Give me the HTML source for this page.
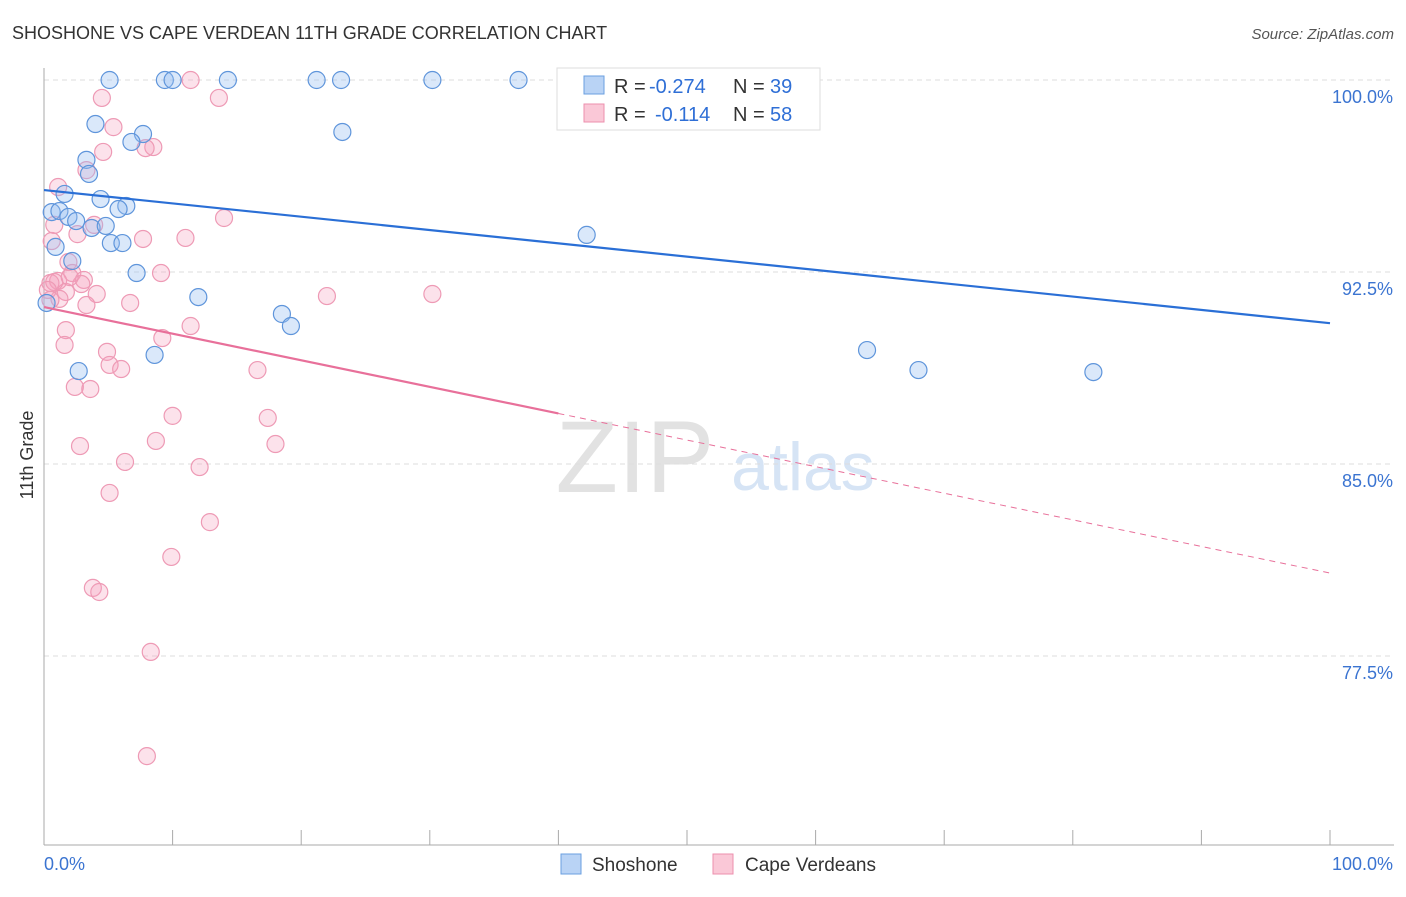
<!DOCTYPE html>
<html><head><meta charset="utf-8"><style>
body{margin:0;background:#fff;font-family:"Liberation Sans",sans-serif}
svg text{font-family:"Liberation Sans",sans-serif}
</style></head><body>
<svg id="c" width="1406" height="892" xmlns="http://www.w3.org/2000/svg">
<text x="12" y="39" font-size="18" fill="#333">SHOSHONE VS CAPE VERDEAN 11TH GRADE CORRELATION CHART</text>
<text x="1394" y="39" font-size="15" fill="#555" font-style="italic" text-anchor="end">Source: ZipAtlas.com</text>
<text x="33" y="455" font-size="18" fill="#333" transform="rotate(-90 33 455)" text-anchor="middle">11th Grade</text>
<g>
<text x="635" y="492" font-size="102" fill="#e2e2e2" font-family="Liberation Serif" text-anchor="middle">ZIP</text>
<text x="803" y="490" font-size="68" fill="#d6e4f5" text-anchor="middle">atlas</text>
</g>
<g id="grid"></g><g id="axes"></g><g id="pts"></g><g id="trend"></g>
<g>
<rect x="557" y="68" width="263" height="62" fill="#fff" stroke="#ddd"/>
<rect x="584" y="76" width="20" height="18" fill="#b9d3f5" stroke="#6a9fe0"/>
<rect x="584" y="104" width="20" height="18" fill="#fac8d7" stroke="#ec8fae"/>
<text x="614" y="93" font-size="20" fill="#333">R =</text>
<text x="649" y="93" font-size="20" fill="#2f6fd6">-0.274</text>
<text x="733" y="93" font-size="20" fill="#333">N =</text>
<text x="770" y="93" font-size="20" fill="#2f6fd6">39</text>
<text x="614" y="121" font-size="20" fill="#333">R =</text>
<text x="655" y="121" font-size="20" fill="#2f6fd6">-0.114</text>
<text x="733" y="121" font-size="20" fill="#333">N =</text>
<text x="770" y="121" font-size="20" fill="#2f6fd6">58</text>
</g>
<g>
<rect x="561" y="854" width="20" height="20" fill="#b9d3f5" stroke="#6a9fe0"/>
<text x="592" y="871" font-size="19" fill="#333">Shoshone</text>
<rect x="713" y="854" width="20" height="20" fill="#fac8d7" stroke="#ec8fae"/>
<text x="745" y="871" font-size="19" fill="#333">Cape Verdeans</text>
</g>
</svg>
<script>
const yTicks=[100,92.5,85,77.5];
const yTickLabels=["100.0%","92.5%","85.0%","77.5%"];
const xTickLabels=["0.0%","100.0%"];
const blueX=[5.1,9.4,10.0,14.3,21.2,23.1,30.2,36.9,4.0,7.7,6.8,23.2,3.3,3.5,1.6,4.4,6.4,5.8,0.6,1.2,1.9,2.5,3.7,4.8,0.9,5.2,6.1,42.2,2.2,7.2,12.0,18.5,19.2,8.6,2.7,64.0,68.0,81.6,0.2];
const blueY=[100,100,100,100,100,100,100,100,98.28,97.89,97.58,97.97,96.88,96.33,95.55,95.35,95.08,94.96,94.84,94.88,94.65,94.49,94.22,94.30,93.48,93.63,93.63,93.95,92.93,92.46,91.52,90.86,90.39,89.26,88.63,89.45,88.67,88.59,91.29];
const pinkX=[11.4,13.6,4.5,5.4,8.5,7.9,4.6,3.3,1.1,14.0,0.8,3.9,2.6,7.7,11.0,0.6,1.9,9.1,2.2,1.1,3.1,0.5,2.9,4.1,1.7,1.2,3.3,6.7,22.0,30.2,1.7,11.4,1.6,9.2,4.9,5.1,6.0,16.6,2.4,3.6,10.0,17.4,2.8,8.7,18.0,6.3,12.1,5.1,12.9,9.9,3.8,4.3,8.3,8.0,0.8,0.3,0.5,2.0];
const pinkY=[100,99.3,99.3,98.16,97.38,97.34,97.19,96.48,95.82,94.61,94.34,94.34,93.98,93.79,93.83,93.71,92.89,92.46,92.46,92.15,92.19,92.07,92.03,91.64,91.72,91.45,91.21,91.29,91.56,91.64,90.23,90.39,89.65,89.92,89.38,88.87,88.71,88.67,88.01,87.93,86.88,86.80,85.70,85.90,85.78,85.08,84.88,83.87,82.73,81.37,80.16,80.0,77.66,73.59,92.11,91.80,91.41,92.30];
const blueTrend=[95.7,90.5];
const pinkTrend=[91.13,80.74];
const pinkSolidEnd=40;
const X=v=>44+v*12.86, Y=v=>80+(100-v)*25.6;
const NS="http://www.w3.org/2000/svg";
function mk(t,a,p){const e=document.createElementNS(NS,t);for(const k in a)e.setAttribute(k,a[k]);document.getElementById(p).appendChild(e);return e;}
yTicks.forEach((t,i)=>{
 const g=mk('line',{x1:44,x2:1394,y1:Y(t),y2:Y(t),stroke:'#ddd','stroke-dasharray':'5,4'},'grid');
 
 
 const l=mk('text',{x:1393,y:Y(t)+23,'font-size':18,fill:'#3b74d1','text-anchor':'end'},'axes');
 l.textContent=yTickLabels[i];
 
 
});
const ax=mk('line',{x1:44,x2:44,y1:68,y2:845,stroke:'#aaa'},'axes');


const bx=mk('line',{x1:44,x2:1394,y1:845,y2:845,stroke:'#aaa'},'axes');


for(let i=0;i<=10;i++){const t=mk('line',{x1:X(i*10),x2:X(i*10),y1:830,y2:845,stroke:'#aaa'},'axes');
 
 }
const xl0=mk('text',{x:44,y:870,'font-size':18,fill:'#3b74d1'},'axes');xl0.textContent=xTickLabels[0];


const xl1=mk('text',{x:1393,y:870,'font-size':18,fill:'#3b74d1','text-anchor':'end'},'axes');xl1.textContent=xTickLabels[1];


pinkX.forEach((v,i)=>{const c=mk('circle',{cx:X(v),cy:Y(pinkY[i]),r:8.5,fill:'rgba(245,160,190,0.3)',stroke:'#ee9ab5','stroke-width':1.2},'pts');
 
 });
blueX.forEach((v,i)=>{const c=mk('circle',{cx:X(v),cy:Y(blueY[i]),r:8.5,fill:'rgba(150,190,240,0.35)',stroke:'#5f95db','stroke-width':1.2},'pts');
 
 });
const bl=mk('line',{x1:X(0),y1:Y(blueTrend[0]),x2:X(100),y2:Y(blueTrend[1]),stroke:'#2a6fd6','stroke-width':2.2},'trend');


const pm=pinkTrend[0]+(pinkTrend[1]-pinkTrend[0])*pinkSolidEnd/100;
const pl=mk('line',{x1:X(0),y1:Y(pinkTrend[0]),x2:X(pinkSolidEnd),y2:Y(pm),stroke:'#e8709a','stroke-width':2.2},'trend');


const pd=mk('line',{x1:X(pinkSolidEnd),y1:Y(pm),x2:X(100),y2:Y(pinkTrend[1]),stroke:'#e8709a','stroke-width':1,'stroke-dasharray':'6,5'},'trend');


</script>
</body></html>
